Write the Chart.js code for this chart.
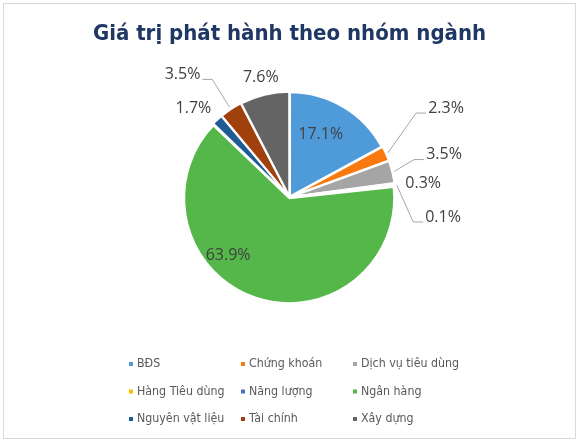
<!DOCTYPE html>
<html>
<head>
<meta charset="utf-8">
<script src="https://cdn.jsdelivr.net/npm/chart.js@4/dist/chart.umd.min.js"></script>
<style>
    html, body { margin: 0; padding: 0; background: #ffffff; }
    #wrap { position: relative; width: 579px; height: 443px; }
    #frame {
        position: absolute; left: 3px; top: 3px; width: 573px; height: 436px;
        box-sizing: border-box; border: 1px solid #d9d9d9; pointer-events: none;
    }
</style>
</head>
<body>
<div id="wrap">
    <canvas id="pie"></canvas>
    <div id="frame"></div>
</div>
<script>
// Données du graphique (pourcentages)
const sectors = ['BĐS', 'Chứng khoán', 'Dịch vụ tiêu dùng', 'Hàng Tiêu dùng', 'Năng lượng',
                 'Ngân hàng', 'Nguyên vật liệu', 'Tài chính', 'Xây dựng'];
const shares = [17.1, 2.3, 3.5, 0.3, 0.1, 63.9, 1.7, 3.5, 7.6];
const sectorColors = ['#4F9BD9', '#F9790F', '#A5A5A5', '#FFC000', '#4472C4',
                      '#55B74A', '#1F5B93', '#A0410D', '#646464'];

/**
 * Étiquettes de pourcentage (dedans / dehors avec ligne de rappel)
 * at = position du texte en rayons depuis le centre
 */
const sliceLabels = {
    id: 'sliceLabels',
    afterDatasetsDraw(chart, args, opts) {
        const ctx = chart.ctx;
        const ds = chart.data.datasets[0];
        const meta = chart.getDatasetMeta(0);
        ctx.save();
        ctx.font = opts.font;
        ctx.textBaseline = 'middle';
        meta.data.forEach((arc, i) => {
            const p = arc.getProps(['x', 'y', 'startAngle', 'endAngle', 'outerRadius']);
            const spot = opts.layout[i];
            const tx = p.x + spot.at[0] * p.outerRadius;
            const ty = p.y + spot.at[1] * p.outerRadius;

            if (spot.leader) {
                const mid = (p.startAngle + p.endAngle) / 2;
                const r = p.outerRadius + ds.offset;
                const ex = p.x + Math.cos(mid) * r;
                const ey = p.y + Math.sin(mid) * r;
                const dir = spot.align === 'left' ? -1 : 1;
                const ly = ty + 5;
                ctx.strokeStyle = opts.lineColor;
                ctx.lineWidth = 1;
                ctx.beginPath();
                ctx.moveTo(ex, ey);
                ctx.lineTo(tx + dir * (opts.gap + 10), ly);
                ctx.lineTo(tx + dir * opts.gap, ly);
                ctx.stroke();
            }

            ctx.fillStyle = opts.color;
            ctx.textAlign = spot.align;
            ctx.fillText(ds.data[i].toFixed(1) + '%', tx, ty);
        });
        ctx.restore();
    }
};

/**
 * Légende en grille 3 colonnes sous le camembert
 */
const gridLegend = {
    id: 'gridLegend',
    afterDraw(chart, args, opts) {
        const ctx = chart.ctx;
        const ds = chart.data.datasets[0];
        const left = chart.width / 2 + opts.left;
        ctx.save();
        ctx.font = opts.font;
        ctx.textBaseline = 'middle';
        ctx.textAlign = 'left';
        chart.data.labels.forEach((name, i) => {
            const col = i % 3;
            const row = Math.floor(i / 3);
            const x = left + col * opts.colWidth;
            const y = chart.chartArea.bottom + opts.top + row * opts.rowHeight;
            ctx.fillStyle = ds.backgroundColor[i];
            ctx.fillRect(x, y - opts.box / 2, opts.box, opts.box);
            ctx.fillStyle = opts.color;
            ctx.fillText(name, x + opts.box + 4, y);
        });
        ctx.restore();
    }
};

const ctx = document.getElementById('pie').getContext('2d');

new Chart(ctx, {
    type: 'pie',
    data: {
        labels: sectors,
        datasets: [{
            data: shares,
            backgroundColor: sectorColors,
            borderColor: '#ffffff',
            borderWidth: 2,
            offset: 4
        }]
    },
    options: {
        responsive: true,
        maintainAspectRatio: false,
        animation: false,
        radius: 104,
        layout: {
            padding: { top: 0, bottom: 96, left: 0, right: 0 }
        },
        plugins: {
            legend: { display: false },
            tooltip: { enabled: false },
            title: {
                display: true,
                text: 'Giá trị phát hành theo nhóm ngành',
                color: '#1F3763',
                font: { family: '"DejaVu Sans Condensed", "DejaVu Sans"', size: 22, weight: 'bold' },
                padding: { top: 21, bottom: 0 }
            },
            sliceLabels: {
                font: '16px "Open Sans"',
                color: '#404040',
                lineColor: '#A6A6A6',
                gap: 2,
                layout: [
                    { at: [0.30, -0.60], align: 'center' },
                    { at: [1.333, -0.857], align: 'left', leader: true },
                    { at: [1.314, -0.410], align: 'left', leader: true },
                    { at: [1.114, -0.133], align: 'left' },
                    { at: [1.305, 0.190], align: 'left', leader: true },
                    { at: [-0.59, 0.562], align: 'center' },
                    { at: [-0.924, -0.857], align: 'center' },
                    { at: [-0.857, -1.181], align: 'right', leader: true },
                    { at: [-0.276, -1.152], align: 'center' }
                ]
            },
            gridLegend: {
                font: '12.3px "DejaVu Sans Condensed", "DejaVu Sans"',
                color: '#595959',
                left: -160.5,
                colWidth: 112,
                top: 17,
                rowHeight: 27.5,
                box: 4
            }
        }
    },
    plugins: [sliceLabels, gridLegend]
});
</script>
</body>
</html>
